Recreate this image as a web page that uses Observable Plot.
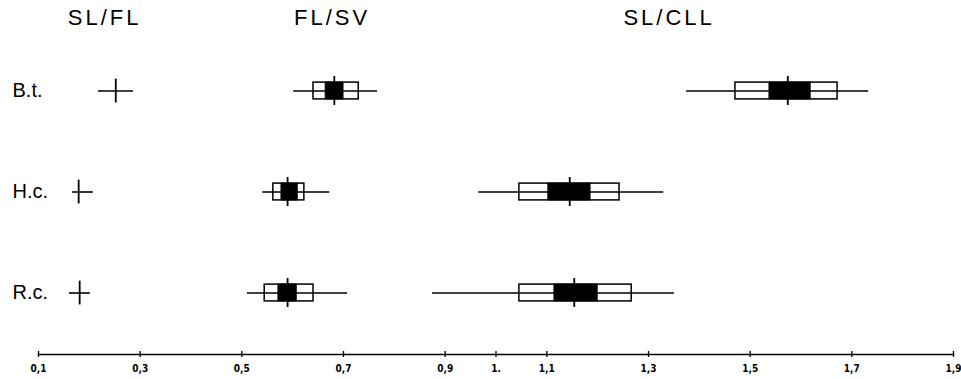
<!DOCTYPE html>
<html><head><meta charset="utf-8">
<script src="https://cdn.jsdelivr.net/npm/d3@7"></script>
<script src="https://cdn.jsdelivr.net/npm/@observablehq/plot@0.6"></script>
<style>body{margin:0;background:#fff} #chart svg{display:block} .hdr text{letter-spacing:3px}</style>
</head><body><div id="chart"></div>
<script>
const species = ["B.t.", "H.c.", "R.c."];
const ratios = ["SL/FL", "FL/SV", "SL/CLL"];
const headerX = [0.230, 0.6775, 1.3405];
const tickValues = [0.1, 0.3, 0.5, 0.7, 0.9, 1.0, 1.1, 1.3, 1.5, 1.7, 1.9];
const tickLabels = ["0,1", "0,3", "0,5", "0,7", "0,9", "1.", "1,1", "1,3", "1,5", "1,7", "1,9"];

// SL/FL (range and mean only)
const slflMin  = [0.218, 0.167, 0.161];
const slflMax  = [0.287, 0.208, 0.202];
const slflMean = [0.252, 0.179, 0.181];

// FL/SV
const flsvMin  = [0.602, 0.541, 0.511];
const flsvMax  = [0.767, 0.673, 0.708];
const flsvBoxLo = [0.641, 0.562, 0.545];
const flsvBoxHi = [0.730, 0.623, 0.641];
const flsvCiLo = [0.665, 0.578, 0.572];
const flsvCiHi = [0.700, 0.610, 0.608];
const flsvMean = [0.682, 0.590, 0.590];

// SL/CLL
const slcllMin  = [1.375, 0.966, 0.875];
const slcllMax  = [1.733, 1.330, 1.351];
const slcllBoxLo = [1.471, 1.046, 1.046];
const slcllBoxHi = [1.672, 1.243, 1.267];
const slcllCiLo = [1.538, 1.103, 1.115];
const slcllCiHi = [1.619, 1.186, 1.200];
const slcllMean = [1.574, 1.145, 1.154];

const crosses = species.map((s, i) => ({species: s, min: slflMin[i], max: slflMax[i], mean: slflMean[i]}));
const boxes = [
  ...species.map((s, i) => ({species: s, ratio: "FL/SV", min: flsvMin[i], max: flsvMax[i], boxLo: flsvBoxLo[i], boxHi: flsvBoxHi[i], ciLo: flsvCiLo[i], ciHi: flsvCiHi[i], mean: flsvMean[i]})),
  ...species.map((s, i) => ({species: s, ratio: "SL/CLL", min: slcllMin[i], max: slcllMax[i], boxLo: slcllBoxLo[i], boxHi: slcllBoxHi[i], ciLo: slcllCiLo[i], ciHi: slcllCiHi[i], mean: slcllMean[i]}))
];
const headers = ratios.map((r, i) => ({ratio: r, x: headerX[i]}));

const chart = Plot.plot({
  width: 961,
  height: 379,
  marginLeft: 38,
  marginRight: 8,
  marginTop: 0,
  marginBottom: 25,
  style: {fontFamily: "'Liberation Sans', Arial, sans-serif", background: "#fff", color: "#000"},
  x: {domain: [0.1, 1.9]},
  y: {type: "band", domain: species, range: [39.5, 343.25], padding: 0, axis: null},
  marks: [
    Plot.frame({anchor: "bottom", strokeWidth: 1.5}),
    Plot.axisX(tickValues, {
      tickFormat: d => tickLabels[tickValues.indexOf(d)],
      tickSize: 6, dy: -3, tickPadding: 7,
      fontSize: 10, fontWeight: "bold",
      fontFamily: "'Liberation Sans Narrow', 'DejaVu Sans Condensed', sans-serif",
      strokeWidth: 1.3
    }),
    // SL/FL crosses
    Plot.ruleY(crosses, {y: "species", x1: "min", x2: "max", stroke: "#000", strokeWidth: 1.6}),
    Plot.tickX(crosses, {y: "species", x: "mean", stroke: "#000", strokeWidth: 1.8, insetTop: 38.6, insetBottom: 38.6}),
    // range lines
    Plot.ruleY(boxes, {y: "species", x1: "min", x2: "max", stroke: "#000", strokeWidth: 1.4}),
    // open boxes
    Plot.barX(boxes, {y: "species", x1: "boxLo", x2: "boxHi", fill: "none", stroke: "#000", strokeWidth: 1.5, insetTop: 42.1, insetBottom: 42.1}),
    // black boxes
    Plot.barX(boxes, {y: "species", x1: "ciLo", x2: "ciHi", fill: "#000", stroke: "#000", strokeWidth: 1, insetTop: 42.1, insetBottom: 42.1}),
    // mean ticks
    Plot.tickX(boxes, {y: "species", x: "mean", stroke: "#000", strokeWidth: 1.8, insetTop: 36, insetBottom: 36}),
    // row labels
    Plot.text(species, {y: d => d, text: d => d, frameAnchor: "left", dx: -26, textAnchor: "start", fontSize: 20, fill: "#000"}),
    // column headers
    Plot.text(headers, {x: "x", text: "ratio", frameAnchor: "top", lineAnchor: "top", dy: 9, fontSize: 22, fill: "#000", className: "hdr"})
  ]
});
document.getElementById("chart").append(chart);
</script>
</body></html>
